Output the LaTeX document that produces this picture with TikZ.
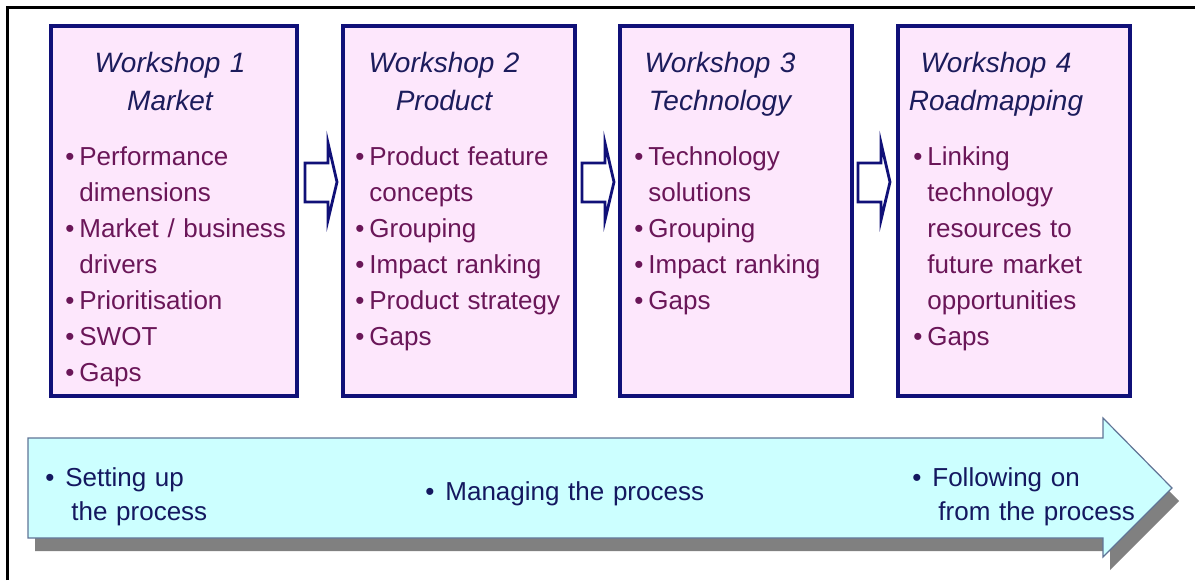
\documentclass[tikz,border=0pt]{standalone}
\usepackage{fontspec}
\setmainfont{Liberation Sans}
\usepackage{tikz}
\definecolor{wsline}{RGB}{16,16,120}
\definecolor{wsfill}{RGB}{253,231,252}
\definecolor{wstitle}{RGB}{28,28,92}
\definecolor{wsitem}{RGB}{106,22,88}
\definecolor{procfill}{RGB}{204,255,255}
\definecolor{procline}{RGB}{96,116,150}
\definecolor{proctext}{RGB}{20,24,96}
\colorlet{procshade}{gray}
\newcommand\bul{\makebox[7pt][l]{\textbullet}}
\newcommand\ind{\hspace*{7pt}}
\newcommand\pbul{\makebox[10pt][l]{\textbullet}}

\begin{document}
\begin{tikzpicture}[x=0.5pt,y=-0.5pt,
  workshop/.style={draw=wsline,fill=wsfill,line width=2pt,minimum height=185pt,inner sep=0pt},
  wshead/.style={text=wstitle,font=\fontsize{14}{19}\selectfont\itshape,text width=110pt,align=center,anchor=base,inner sep=0pt},
  wsbody/.style={text=wsitem,font=\fontsize{13}{18}\selectfont,text width=118pt,align=left,anchor=base west,inner sep=0pt},
  stepper/.style={draw=wsline,fill=white,line width=1.4pt,line join=miter},
  procbody/.style={text=proctext,font=\fontsize{13}{17}\selectfont,text width=170pt,align=left,anchor=base west,inner sep=0pt}
]
\useasboundingbox (0,0) rectangle (1195,580);
\draw[line width=1.5pt] (7,580) -- (7,7) -- (1195,7);

% the four workshops
\foreach \n/\cx/\w in {1/174/123,2/459/116,3/736/116,4/1013.5/116}
  \node[workshop,minimum width=\w pt] (w\n) at (\cx,211) {};

\node[wshead] (t1) at (170,72) {Workshop 1\\Market};
\node[wshead] (t2) at (444,72) {Workshop 2\\Product};
\node[wshead] (t3) at (720,72) {Workshop 3\\Technology};
\node[wshead] (t4) at (996,72) {Workshop 4\\Roadmapping};

\node[wsbody] (b1) at (65,165) {\bul Performance\\\ind dimensions\\\bul Market / business\\\ind drivers\\\bul Prioritisation\\\bul SWOT\\\bul Gaps};
\node[wsbody] (b2) at (355,165) {\bul Product feature\\\ind concepts\\\bul Grouping\\\bul Impact ranking\\\bul Product strategy\\\bul Gaps};
\node[wsbody] (b3) at (634,165) {\bul Technology\\\ind solutions\\\bul Grouping\\\bul Impact ranking\\\bul Gaps};
\node[wsbody] (b4) at (913,165) {\bul Linking\\\ind technology\\\ind resources to\\\ind future market\\\ind opportunities\\\bul Gaps};

% small arrows between the workshops
\foreach \x in {305,582,858}
  \draw[stepper] (\x,163) -- ++(23,0) -- ++(0,-20) -- ++(9,39) -- ++(-9,38) -- ++(0,-18) -- (\x,202) -- cycle;

% process arrow
\fill[procshade] (35,451) -- (1110,451) -- (1110,431) -- (1179,501) -- (1110,570) -- (1110,551) -- (35,551) -- cycle;
\draw[procline,fill=procfill,line width=0.6pt] (28,438) -- (1103,438) -- (1103,418) -- (1172,488) -- (1103,557) -- (1103,538) -- (28,538) -- cycle;

\node[procbody] (s1) at (45,486) {\pbul Setting up\\\hspace*{13pt}the process};
\node[procbody] (s2) at (425,500) {\pbul Managing the process};
\node[procbody] (s3) at (912,486) {\pbul Following on\\\hspace*{13pt}from the process};
\end{tikzpicture}
\end{document}
